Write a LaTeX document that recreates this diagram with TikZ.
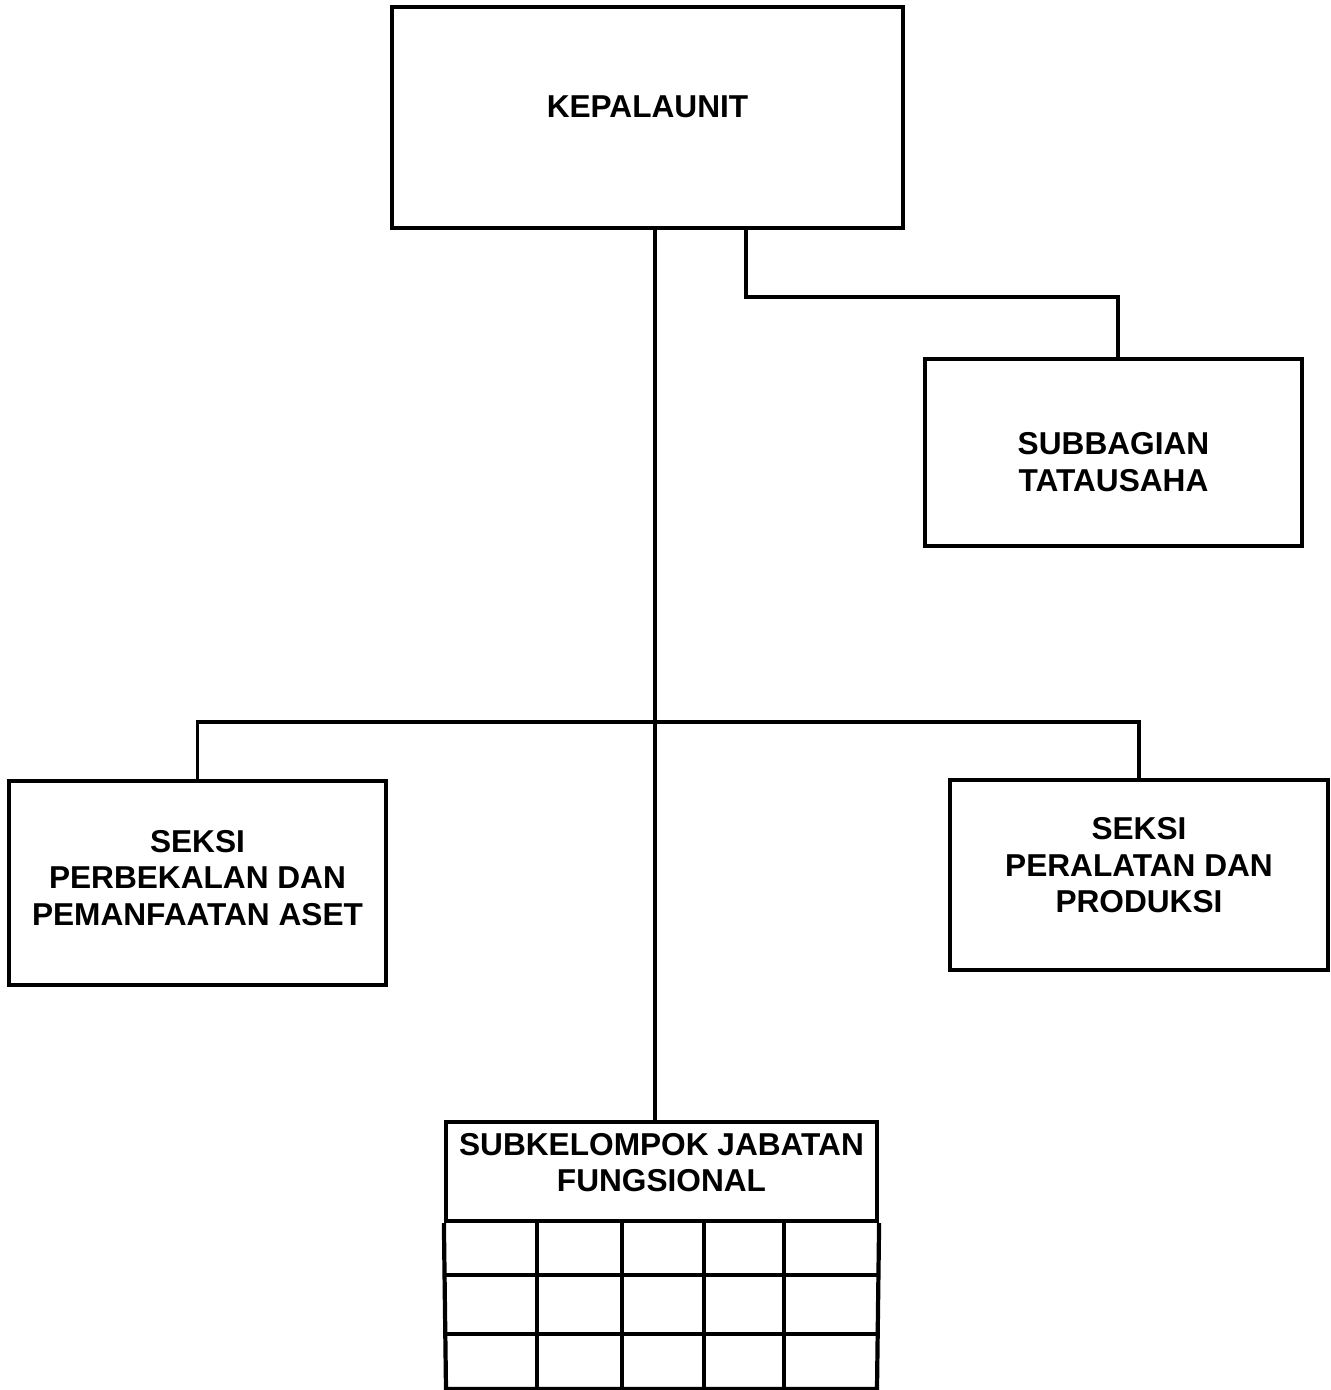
\documentclass[tikz,border=0pt]{standalone}
\usepackage{fontspec}
\setmainfont{Liberation Sans}

\newcommand{\trunkx}{6.55}  % main vertical line
\newcommand{\busy}{-7.22}   % horizontal bar to the sections

\tikzset{
  unitbox/.style={draw, line width=1.2pt, inner sep=0pt},
  unittext/.style={inner sep=0pt, align=center,
    font=\bfseries\fontsize{9}{10.4}\selectfont},
  link/.style={line width=0.9pt},
  gridline/.style={line width=1.2pt}
}

\begin{document}
\begin{tikzpicture}
  \useasboundingbox (0,0) rectangle (13.31,-13.90);
%
  \node[unitbox, minimum width=5.11cm, minimum height=2.21cm] (kepala) at (6.475,-1.175) {};
  \node[unitbox, minimum width=3.77cm, minimum height=1.87cm] (tu) at (11.135,-4.525) {};
  \node[unitbox, minimum width=3.77cm, minimum height=2.04cm] (seksiA) at (1.975,-8.83) {};
  \node[unitbox, minimum width=3.78cm, minimum height=1.90cm] (seksiB) at (11.39,-8.75) {};
  \node[unitbox, minimum width=4.31cm, minimum height=0.99cm] (subkel) at (6.615,-11.715) {};
  % labels
  \node[unittext, yshift=0.105cm] (kepala-txt) at (kepala.center) {KEPALAUNIT};
  \node[unittext, yshift=-0.095cm] (tu-txt) at (tu.center) {SUBBAGIAN\\TATAUSAHA};
  \node[unittext, yshift=0.05cm] (seksiA-txt) at (seksiA.center) {SEKSI\\PERBEKALAN DAN\\PEMANFAATAN ASET};
  \node[unittext, yshift=0.095cm] (seksiB-txt) at (seksiB.center) {SEKSI\\PERALATAN DAN\\PRODUKSI};
  \node[unittext, yshift=0.09cm] (subkel-txt) at (subkel.center) {SUBKELOMPOK JABATAN\\FUNGSIONAL};
%
  % connectors
  \coordinate (bus) at (\trunkx,\busy);
  \draw[link] (kepala.south -| \trunkx,0) -- (subkel.north -| \trunkx,0);
  \draw[link] (kepala.south -| 7.46,0) |- (11.18,-2.97) -- (tu.north -| 11.18,0);
  \draw[link] (seksiA.north) |- (bus) -| (seksiB.north);
%
  % grid under the functional group
  \draw[gridline] (subkel.south west) -- (4.46,-13.89) -- (8.77,-13.89) -- (subkel.south east);
  \foreach \y in {-12.75,-13.34}
    \draw[gridline] (4.46,\y) -- (8.77,\y);
  \foreach \x in {5.37,6.22,7.04,7.84}
    \draw[gridline] (\x,-12.21) -- (\x,-13.89);
\end{tikzpicture}
\end{document}
